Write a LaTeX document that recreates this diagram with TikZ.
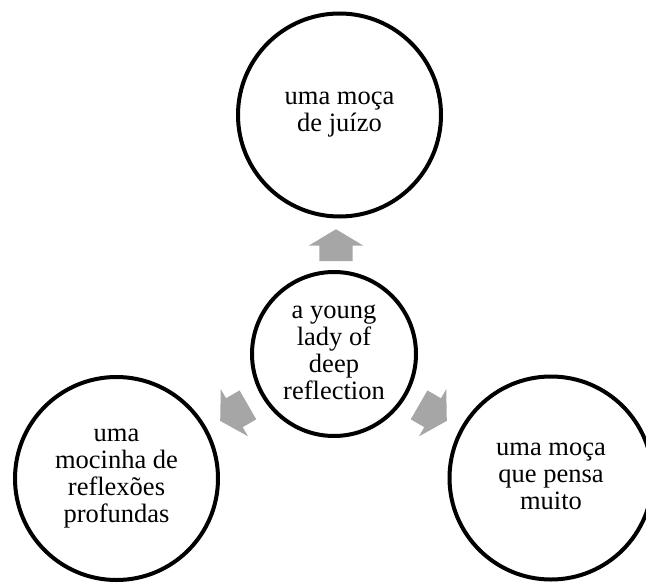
\documentclass[tikz,border=0pt]{standalone}
\usepackage{fontspec}
\setmainfont{Liberation Serif}
\usetikzlibrary{shapes.arrows}
\definecolor{arrowgray}{HTML}{A6A6A6}

\begin{document}
\begin{tikzpicture}[x=1bp, y=-1bp,
    bubble/.style = {circle,
    draw = black,
    line width = 4bp,
    minimum size = 203bp,
    inner sep = 0pt,
    align = center,
    font = \fontsize{26.5bp}{27bp}\selectfont,
    execute at begin node = \rule{0pt}{20bp},
    execute at end node = \rule[-3bp]{0pt}{3bp}},
    hub/.style = {bubble, minimum size = 164bp},
    blockarrow/.style = {single arrow,
    fill = arrowgray,
    minimum height = 32bp,
    inner xsep = 0pt,
    inner ysep = 16.5bp,
    single arrow head extend = 10.5bp,
    single arrow tip angle = 118,
    anchor = tip}]

    \useasboundingbox (0,0) rectangle (646,585);

    \node[hub] (hub) at (334,354) {a young\\lady of\\deep\\reflection};

    \node[bubble] (juizo) at (339.5,115) {uma moça\\de juízo};
    \node[bubble] (mocinha) at (116.5,478.5) {uma\\mocinha de\\reflexões\\profundas};
    \node[bubble] (pensa) at (551,478) {uma moça\\que pensa\\muito};

    \node[blockarrow, rotate = 90] (up) at (336,229) {};
    \node[blockarrow, rotate = 210] (left) at (220,421) {};
    \node[blockarrow, rotate = -30] (right) at (447,421) {};
\end{tikzpicture}
\end{document}
